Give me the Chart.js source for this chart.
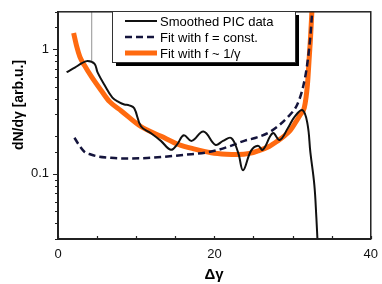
<!DOCTYPE html>
<html>
<head>
<meta charset="utf-8">
<script src="https://cdn.jsdelivr.net/npm/chart.js@4/dist/chart.umd.min.js"></script>
<style>
  html, body { margin: 0; padding: 0; background: #fff; }
</style>
</head>
<body>
<canvas id="chart" width="382" height="284"></canvas>
<script>
    // ---- data ----
    const picX = [1.1, 2.15, 3.0, 3.8, 4.68, 5.06, 5.95, 6.96, 7.85, 8.48, 9.11, 9.75, 10.63, 11.9, 13.16, 14.43, 15.2, 16.08, 17.09, 18.61, 20.13, 21.1, 22.15, 23.04, 23.67, 24.68, 25.57, 26.2, 27.47, 28.35, 29.37, 30.25, 31.27, 31.9, 32.28, 32.78, 33.04, 33.2];
    const picY = [0.655, 0.712, 0.77, 0.807, 0.765, 0.652, 0.517, 0.41, 0.375, 0.361, 0.355, 0.336, 0.24, 0.212, 0.184, 0.156, 0.171, 0.204, 0.184, 0.219, 0.171, 0.184, 0.194, 0.148, 0.107, 0.153, 0.168, 0.156, 0.212, 0.187, 0.231, 0.287, 0.325, 0.253, 0.148, 0.082, 0.0448, 0.028];

    const constX = [2.1, 2.7, 3.4, 4.2, 5.1, 6.5, 8.1, 11.4, 14.0, 16.1, 19.6, 22.0, 23.9, 25.2, 27.2, 29.4, 30.6, 31.4, 31.9, 32.3, 32.55];
    const constY = [0.195, 0.17, 0.15, 0.143, 0.138, 0.135, 0.133, 0.134, 0.138, 0.142, 0.151, 0.167, 0.185, 0.194, 0.219, 0.287, 0.361, 0.517, 0.78, 1.33, 2.2];

    const gammaX = [2.0, 2.4, 2.8, 3.4, 4.3, 5.6, 6.6, 8.1, 10.6, 13.2, 15.4, 17.5, 19.6, 21.5, 23.0, 24.5, 25.6, 27.0, 28.1, 29.0, 29.7, 30.4, 31.0, 31.5, 31.9, 32.15, 32.3, 32.5];
    const gammaY = [1.35, 1.05, 0.87, 0.74, 0.6, 0.46, 0.38, 0.32, 0.24, 0.2, 0.172, 0.158, 0.148, 0.144, 0.143, 0.146, 0.153, 0.166, 0.184, 0.203, 0.223, 0.26, 0.3, 0.34, 0.52, 0.9, 1.25, 2.2];

    const markX = [4.3, 4.3];
    const markY = [2.0, 0.79];

    const xTickLabels = [0, 20, 40];
    const yTickLabels = [0.1, 1];

    const labels = ['Smoothed PIC data', 'Fit with f = const.', 'Fit with f ~ 1/\u03b3'];
    const FONT = "'Liberation Sans', Arial, sans-serif";

    const pts = (xs, ys) => xs.map((x, i) => ({ x: x, y: ys[i] }));
    const isYLabel = v => yTickLabels.some(t => Math.abs(v - t) < t * 1e-6);

    // frame, ticks, legend box and axis titles
    const decor = {
        id: 'decor',
        afterDraw(chart) {
            const { ctx, chartArea: a, scales } = chart;
            ctx.save();
            ctx.strokeStyle = '#222';
            ctx.lineWidth = 1.5;
            ctx.strokeRect(a.left, a.top, a.right - a.left, a.bottom - a.top);

            // x ticks point inward, y ticks outward (minor ones shorter)
            ctx.lineWidth = 1.2;
            ctx.beginPath();
            scales.x.ticks.forEach(t => {
                const px = Math.round(scales.x.getPixelForValue(t.value)) + 0.5;
                ctx.moveTo(px, a.bottom);
                ctx.lineTo(px, a.bottom - 3);
            });
            scales.y.ticks.forEach(t => {
                const py = Math.round(scales.y.getPixelForValue(t.value)) + 0.5;
                const len = isYLabel(t.value) ? 5 : 3;
                ctx.moveTo(a.left, py);
                ctx.lineTo(a.left - len, py);
            });
            ctx.stroke();

            // legend with drop shadow
            const bx = 112, by = 11, bw = 183, bh = 51;
            ctx.fillStyle = '#000';
            ctx.fillRect(bx + 4, by + 4, bw, bh);
            ctx.fillStyle = '#fff';
            ctx.fillRect(bx, by, bw, bh);
            ctx.lineWidth = 1;
            ctx.strokeStyle = '#333';
            ctx.strokeRect(bx + 0.5, by + 0.5, bw, bh);

            const rows = [21, 37, 53];
            chart.data.datasets.slice(0, 3).forEach((ds, i) => {
                ctx.beginPath();
                ctx.strokeStyle = ds.borderColor;
                ctx.lineWidth = ds.borderWidth;
                ctx.setLineDash(ds.borderDash || []);
                ctx.moveTo(125, rows[i]);
                ctx.lineTo(157, rows[i]);
                ctx.stroke();
                ctx.setLineDash([]);
                ctx.fillStyle = '#000';
                ctx.font = '13px ' + FONT;
                ctx.textBaseline = 'middle';
                ctx.textAlign = 'left';
                ctx.fillText(labels[i], 160, rows[i] + 1);
            });

            // axis titles
            ctx.fillStyle = '#000';
            ctx.font = 'bold 15px ' + FONT;
            ctx.textAlign = 'center';
            ctx.textBaseline = 'middle';
            ctx.fillText('\u0394\u03b3', 214, 275);

            ctx.translate(19, 105);
            ctx.rotate(-Math.PI / 2);
            ctx.font = 'bold 14px ' + FONT;
            ctx.fillText('dN/d\u03b3 [arb.u.]', 0, 0);
            ctx.restore();
        }
    };

    new Chart(document.getElementById('chart'), {
        type: 'line',
        data: {
            datasets: [
                {
                    label: labels[0],
                    data: pts(picX, picY),
                    borderColor: '#111',
                    borderWidth: 2,
                    tension: 0.4,
                    pointRadius: 0,
                    clip: 0
                },
                {
                    label: labels[1],
                    data: pts(constX, constY),
                    borderColor: '#14143c',
                    borderWidth: 2.5,
                    borderDash: [7, 4],
                    cubicInterpolationMode: 'monotone',
                    pointRadius: 0,
                    clip: 0
                },
                {
                    label: labels[2],
                    data: pts(gammaX, gammaY),
                    borderColor: '#ff6a10',
                    borderWidth: 5,
                    cubicInterpolationMode: 'monotone',
                    pointRadius: 0,
                    clip: 0
                },
                {
                    label: 'marker',
                    data: pts(markX, markY),
                    borderColor: '#aaa',
                    borderWidth: 1,
                    pointRadius: 0,
                    clip: 0
                }
            ]
        },
        options: {
            responsive: false,
            animation: false,
            layout: { padding: { top: 5, right: 8, left: 0, bottom: 0 } },
            plugins: { legend: { display: false }, tooltip: { enabled: false } },
            scales: {
                x: {
                    type: 'linear',
                    min: 0,
                    max: 40,
                    afterFit: s => { s.height = 45; },
                    ticks: {
                        stepSize: 5,
                        autoSkip: false,
                        maxRotation: 0,
                        padding: 4,
                        color: '#111',
                        font: { family: FONT, size: 13 },
                        callback: v => xTickLabels.includes(v) ? String(v) : ''
                    },
                    grid: { drawOnChartArea: false, tickLength: 4, tickColor: 'rgba(0,0,0,0)' },
                    border: { color: '#222', width: 2 }
                },
                y: {
                    type: 'logarithmic',
                    min: 0.03,
                    max: 2,
                    afterFit: s => { s.width = 58; },
                    ticks: {
                        autoSkip: false,
                        padding: 4,
                        color: '#111',
                        font: { family: FONT, size: 13 },
                        callback: v => {
                            const hit = yTickLabels.find(t => Math.abs(v - t) < t * 1e-6);
                            return hit !== undefined ? String(hit) : '';
                        }
                    },
                    grid: { drawOnChartArea: false, tickLength: 5, tickColor: 'rgba(0,0,0,0)' },
                    border: { color: '#222', width: 2 }
                }
            }
        },
        plugins: [decor]
    });
</script>
</body>
</html>
